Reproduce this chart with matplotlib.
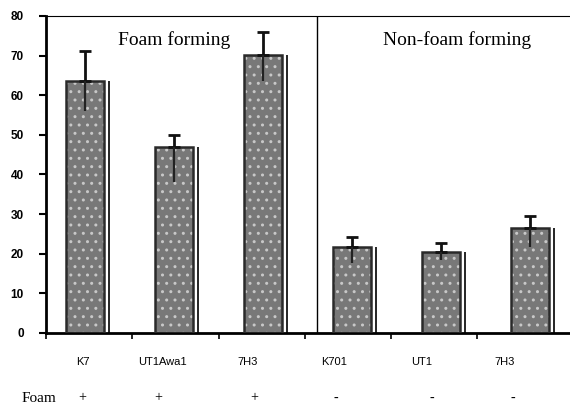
import numpy as np
import matplotlib
matplotlib.use("Agg")
import matplotlib.pyplot as plt

# values
strains = ["K7", "UT1Awa1", "7H3", "K701", "UT1", "7H3"]
foam = ["+", "+", "+", "-", "-", "-"]
means = [63.5, 47.0, 70.2, 21.7, 20.4, 26.5]
err_top = [71.2, 50.0, 76.0, 24.2, 22.7, 29.5]
err_bottom = [56.0, 38.0, 63.5, 17.7, 18.4, 21.7]
yticks = [0, 10, 20, 30, 40, 50, 60, 70, 80]
ytick_labels = ["0", "10", "20", "30", "40", "50", "60", "70", "80"]

means = np.array(means)
up = np.array(err_top) - means
down = means - np.array(err_bottom)

narrow = ["Liberation Sans Narrow", "Liberation Sans"]

fig = plt.figure(figsize=(5.7, 4.08), dpi=100)
ax = fig.add_axes([0.0807, 0.184, 0.9193, 0.777])

x = np.arange(6) + 0.44
w = 0.43

# textured-looking bars: grey fill with light dots, then black outline
ax.bar(x, means, w, color="#787878", edgecolor="#c8c8c8", hatch="..", linewidth=0, zorder=2)
ax.bar(x, means, w, fill=False, edgecolor="#2a2a2a", linewidth=1.8, zorder=3)
# shadow line on the right of each bar
ax.vlines(x + w / 2 + 0.05, 0, means, color="black", linewidth=1.2, zorder=3)

ax.errorbar(x, means, yerr=[np.zeros(6), up], fmt="none", ecolor="#111111",
            elinewidth=2, capsize=4, capthick=2, zorder=4)
ax.vlines(x, means - down, means, color="#222222", linewidth=1.6, zorder=4)

ax.set_xlim(0, 5.89)
ax.set_ylim(0, 80)

# group separator
ax.axvline(3.05, color="black", linewidth=1.0, zorder=1)

ax.spines["right"].set_visible(False)
ax.spines["top"].set_linestyle((0, (2, 1)))
ax.spines["top"].set_linewidth(0.8)
ax.spines["left"].set_linewidth(2)
ax.spines["bottom"].set_linewidth(2)

ax.set_yticks(yticks)
ax.set_yticklabels(ytick_labels, fontsize=8.5, fontweight="bold", family=narrow)
ax.tick_params(axis="y", length=5, width=1.5, pad=11)
ax.set_xticks(np.arange(6) * 0.97)
ax.set_xticklabels([])
ax.tick_params(axis="x", length=4, width=1.2, direction="out")

label_x = [0.42, 1.31, 2.27, 3.24, 4.22, 5.16]
for lx, s in zip(label_x, strains):
    ax.text(lx, -7.3, s, ha="center", va="center", fontsize=8,
            family=narrow, clip_on=False)

sign_x = [0.41, 1.26, 2.34, 3.26, 4.34, 5.25]
ax.text(-0.08, -16.6, "Foam", ha="center", va="center", fontsize=11,
        family="Liberation Serif", clip_on=False)
for sx, s in zip(sign_x, foam):
    ax.text(sx, -16.4, s, ha="center", va="center", fontsize=10,
            family="Liberation Serif", clip_on=False)

ax.text(1.44, 74, "Foam forming", ha="center", va="center", fontsize=14,
        family="Liberation Serif")
ax.text(4.62, 74, "Non-foam forming", ha="center", va="center", fontsize=14,
        family="Liberation Serif")

fig.savefig("out.png", dpi=100)
